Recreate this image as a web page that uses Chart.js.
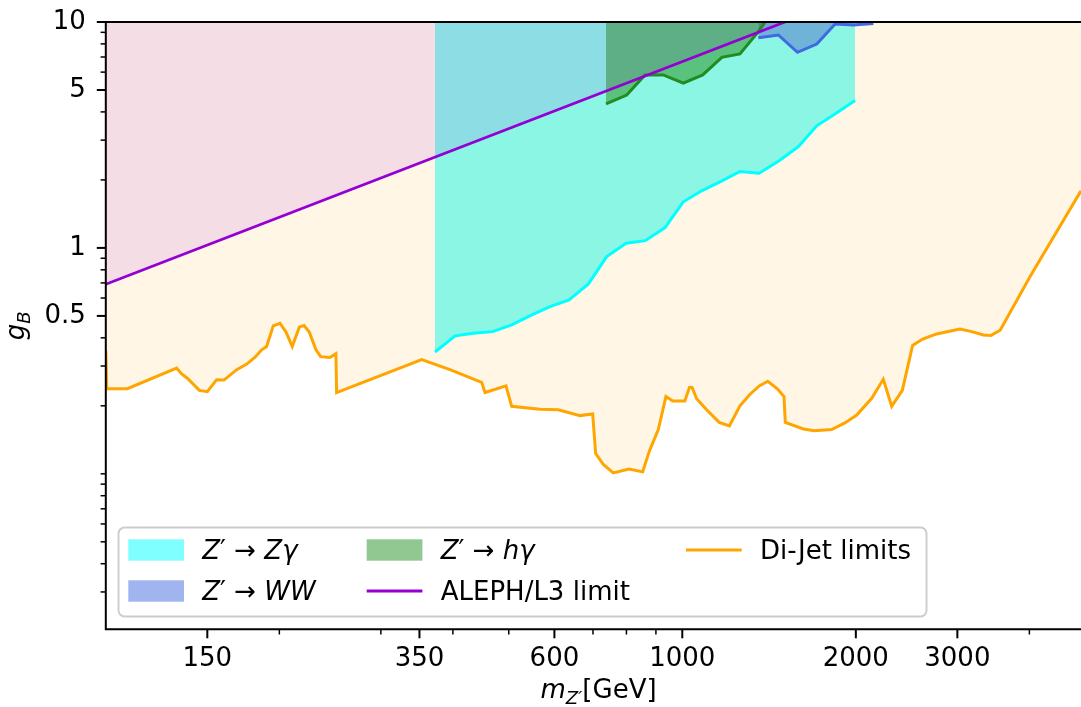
<!DOCTYPE html>
<html>
<head>
<meta charset="utf-8">
<script src="https://cdn.jsdelivr.net/npm/chart.js@4.4.1/dist/chart.umd.min.js"></script>
<style>
  html, body { margin: 0; padding: 0; background: #fff; overflow: hidden; }
  #wrap { width: 1081px; height: 707px; }
</style>
</head>
<body>
<div id="wrap"><canvas id="limitsChart" width="1081" height="707"></canvas></div>
<script>
// Z' -> Z gamma (lower edge of excluded band)
var massZg = [372.4, 403.5, 434.0, 469.0, 505.9, 548.1, 589.5, 636.0, 687.1, 739.5, 798.7, 862.6, 933.3, 1004, 1080, 1167, 1259, 1359, 1472, 1590, 1711, 1848, 1994];
var gZg    = [0.346, 0.408, 0.419, 0.426, 0.456, 0.505, 0.550, 0.589, 0.693, 0.915, 1.049, 1.077, 1.23, 1.60, 1.79, 1.97, 2.18, 2.14, 2.43, 2.81, 3.47, 3.95, 4.49];

// Z' -> WW
var massWW = [1355, 1468, 1584, 1711, 1841, 1980, 2145];
var gWW    = [8.52, 8.76, 7.34, 7.99, 9.8, 9.7, 9.85];

// Z' -> h gamma
var massHg = [737.4, 800.9, 861.6, 926.8, 1004, 1085, 1171, 1259, 1355, 1392];
var gHg    = [4.34, 4.75, 5.83, 5.83, 5.36, 5.83, 6.98, 7.22, 9.06, 10];

// ALEPH/L3
var massAleph = [100, 1507];
var gAleph    = [0.69, 10];

// di-jet
var massJet = [100, 100.4, 109.0, 132.7, 135.4, 138.5, 145.3, 150.0, 155.7, 160.3, 168.7, 175.6, 181.5, 186.4, 190.1, 195.2, 200.5, 205.4, 210.6, 216.6,
  220.7, 225.4, 231.5, 235.9, 244.8, 250.7, 251.4, 353.2, 395.4, 448.7, 454.8, 494.5, 505.9, 566.4, 609.5, 664.5, 699.1, 707.5, 729.4, 759.1,
  808.3, 853.7, 876.6, 908.6, 936.9, 962.3, 1010, 1029, 1040, 1059, 1102, 1159, 1207, 1259, 1311, 1360, 1407, 1462, 1501, 1509,
  1622, 1693, 1816, 1915, 2007, 2131, 2232, 2308, 2408, 2509, 2612, 2762, 3031, 3177, 3328, 3432, 3560, 4009, 4916];
var gJet = [0.35, 0.238, 0.238, 0.294, 0.277, 0.265, 0.234, 0.231, 0.261, 0.260, 0.289, 0.306, 0.328, 0.354, 0.366, 0.452, 0.464, 0.424, 0.366, 0.446,
  0.453, 0.424, 0.354, 0.330, 0.327, 0.340, 0.229, 0.320, 0.289, 0.254, 0.229, 0.245, 0.199, 0.193, 0.192, 0.181, 0.184, 0.123, 0.110, 0.101,
  0.105, 0.102, 0.126, 0.157, 0.220, 0.210, 0.210, 0.241, 0.241, 0.215, 0.192, 0.169, 0.163, 0.200, 0.225, 0.245, 0.257, 0.238, 0.220, 0.169,
  0.158, 0.155, 0.157, 0.168, 0.182, 0.216, 0.262, 0.199, 0.234, 0.370, 0.395, 0.416, 0.437, 0.426, 0.412, 0.410, 0.432, 0.746, 1.79];

// tick values
var xMajor = [150, 350, 600, 1000, 2000, 3000];
var xMinor = [200, 300, 400, 500, 700, 800, 900, 4000];
var yMajor = [0.5, 1, 5, 10];
var yMinor = [0.03, 0.04, 0.05, 0.06, 0.07, 0.08, 0.09, 0.1, 0.2, 0.3, 0.4, 0.6, 0.7, 0.8, 0.9, 2, 3, 4, 6, 7, 8, 9];

var FONT = '"DejaVu Sans", sans-serif';
var FS = 26;

function pts(xs, ys) {
  var out = [];
  for (var i = 0; i < xs.length; i++) out.push({x: xs[i], y: ys[i]});
  return out;
}
function sorted(a, b) {
  return a.concat(b).sort(function(p, q){ return p - q; });
}

// mathtext-ish pieces: t = text, i = italic, s = subscript
function fontFor(p) {
  return (p.i ? 'italic ' : '') + (p.s ? FS * 0.7 : FS) + 'px ' + FONT;
}
function drawRich(ctx, parts, x, y, center) {
  var w = 0;
  parts.forEach(function(p){ ctx.font = fontFor(p); w += ctx.measureText(p.t).width; });
  var cx = center ? x - w / 2 : x;
  parts.forEach(function(p){
    ctx.font = fontFor(p);
    ctx.fillText(p.t, cx, y + (p.s ? FS * 0.22 : 0));
    cx += ctx.measureText(p.t).width;
  });
}

var lblZg = [{t:'Z', i:1}, {t:'\u2032'}, {t:' \u2192 '}, {t:'Z\u03b3', i:1}];
var lblWW = [{t:'Z', i:1}, {t:'\u2032'}, {t:' \u2192 '}, {t:'WW', i:1}];
var lblHg = [{t:'Z', i:1}, {t:'\u2032'}, {t:' \u2192 '}, {t:'h\u03b3', i:1}];
var lblAleph = [{t:'ALEPH/L3 limit'}];
var lblJet = [{t:'Di-Jet limits'}];

var datasets = [
  { label: "Z' \u2192 Z\u03b3", data: pts(massZg, gZg), borderColor: '#00ffff', backgroundColor: 'rgba(0,255,255,0.5)',
    fill: 'end', borderWidth: 3, order: 5, legendPatch: 'rgba(0,255,255,0.5)', legendText: lblZg },
  { label: "Z' \u2192 WW", data: pts(massWW, gWW), borderColor: '#4169e1', backgroundColor: 'rgba(65,105,225,0.5)',
    fill: 'end', borderWidth: 3, order: 4, legendPatch: 'rgba(65,105,225,0.5)', legendText: lblWW },
  { label: "Z' \u2192 h\u03b3", data: pts(massHg, gHg), borderColor: '#228b22', backgroundColor: 'rgba(0,128,0,0.45)',
    fill: 'end', borderWidth: 3, order: 3, legendPatch: 'rgba(0,128,0,0.43)', legendText: lblHg },
  { label: 'ALEPH/L3 limit', data: pts(massAleph, gAleph), borderColor: '#9400d3', backgroundColor: 'rgba(148,0,211,0.1)',
    fill: 'end', borderWidth: 2.8, order: 1, legendLine: true, legendText: lblAleph },
  { label: 'Di-Jet limits', data: pts(massJet, gJet), borderColor: '#ffa500', backgroundColor: 'rgba(255,165,0,0.1)',
    fill: 'end', borderWidth: 3, order: 2, legendLine: true, legendText: lblJet }
];

// frame, matplotlib-like ticks, axis titles and legend
var decorPlugin = {
  id: 'decor',
  afterDraw: function(chart) {
    var ctx = chart.ctx, a = chart.chartArea;
    var xs = chart.scales.x, ys = chart.scales.y;
    ctx.save();
    ctx.strokeStyle = '#000';
    ctx.lineCap = 'butt';

    // spines
    ctx.lineWidth = 2;
    ctx.beginPath();
    ctx.moveTo(a.left, a.top); ctx.lineTo(a.right, a.top);
    ctx.moveTo(a.left, a.top - 1); ctx.lineTo(a.left, a.bottom + 1);
    ctx.moveTo(a.left, a.bottom); ctx.lineTo(a.right, a.bottom);
    ctx.stroke();

    // ticks
    function tick(isX, v, major) {
      ctx.lineWidth = major ? 2 : 1.5;
      var len = major ? 9 : 5.2;
      ctx.beginPath();
      if (isX) {
        var px = xs.getPixelForValue(v);
        ctx.moveTo(px, a.bottom); ctx.lineTo(px, a.bottom + len);
      } else {
        var py = ys.getPixelForValue(v);
        ctx.moveTo(a.left, py); ctx.lineTo(a.left - len, py);
      }
      ctx.stroke();
    }
    xMajor.forEach(function(v){ tick(true, v, true); });
    xMinor.forEach(function(v){ tick(true, v, false); });
    yMajor.forEach(function(v){ tick(false, v, true); });
    yMinor.forEach(function(v){ tick(false, v, false); });

    // axis titles
    ctx.fillStyle = '#000';
    ctx.textBaseline = 'alphabetic';
    var midX = (a.left + xs.getPixelForValue(5000)) / 2;
    drawRich(ctx, [{t:'m', i:1}, {t:'Z\u2032', i:1, s:1}, {t:'[GeV]'}], midX + 3, 698, true);
    ctx.save();
    ctx.translate(24, (a.top + a.bottom) / 2);
    ctx.rotate(-Math.PI / 2);
    drawRich(ctx, [{t:'g', i:1}, {t:'B', i:1, s:1}], 0, 0, true);
    ctx.restore();

    // legend box
    var lx = 118.5, ly = 527.5, lw = 808, lh = 89, r = 6;
    ctx.beginPath();
    ctx.moveTo(lx + r, ly);
    ctx.arcTo(lx + lw, ly, lx + lw, ly + lh, r);
    ctx.arcTo(lx + lw, ly + lh, lx, ly + lh, r);
    ctx.arcTo(lx, ly + lh, lx, ly, r);
    ctx.arcTo(lx, ly, lx + lw, ly, r);
    ctx.closePath();
    ctx.fillStyle = 'rgba(255,255,255,0.8)';
    ctx.fill();
    ctx.strokeStyle = '#cccccc';
    ctx.lineWidth = 1.9;
    ctx.stroke();

    // entries fill column by column, two rows
    var colX = [128.3, 366.7, 686];
    var rowY = [550, 591];
    chart.data.datasets.forEach(function(ds, k) {
      var cx = colX[Math.floor(k / 2)], cy = rowY[k % 2];
      if (ds.legendLine) {
        ctx.strokeStyle = ds.borderColor;
        ctx.lineWidth = ds.borderWidth;
        ctx.beginPath();
        ctx.moveTo(cx, cy); ctx.lineTo(cx + 55.7, cy);
        ctx.stroke();
      } else {
        ctx.fillStyle = ds.legendPatch;
        ctx.fillRect(cx, cy - 10.7, 55.7, 21.4);
      }
      ctx.fillStyle = '#000';
      drawRich(ctx, ds.legendText, cx + 74, cy + 9, false);
    });
    ctx.restore();
  }
};

var ctx = document.getElementById('limitsChart').getContext('2d');
var limitsChart = new Chart(ctx, {
  type: 'line',
  data: { datasets: datasets },
  options: {
    responsive: false,
    animation: false,
    layout: { padding: { top: 22, left: 0, right: 0, bottom: 0 } },
    elements: { point: { radius: 0 }, line: { tension: 0 } },
    plugins: {
      legend: { display: false },
      tooltip: { enabled: false },
      filler: { drawTime: 'beforeDatasetsDraw' }
    },
    scales: {
      x: {
        type: 'logarithmic',
        min: 100,
        max: 4916,
        // invisible tick marks only to push the labels away from the axis
        grid: { display: true, drawOnChartArea: false, drawTicks: true, tickLength: 14.5, color: 'rgba(0,0,0,0)' },
        border: { display: false },
        ticks: {
          autoSkip: false, maxRotation: 0, padding: 0, color: '#000',
          font: { family: FONT, size: FS },
          callback: function(v) { return xMajor.indexOf(v) >= 0 ? String(v) : ''; }
        },
        afterBuildTicks: function(scale) {
          scale.ticks = sorted(xMajor, xMinor).map(function(v){ return {value: v}; });
        },
        afterFit: function(scale) { scale.height = 77.7; }
      },
      y: {
        type: 'logarithmic',
        min: 0.0205,
        max: 10,
        grid: { display: true, drawOnChartArea: false, drawTicks: true, tickLength: 20, color: 'rgba(0,0,0,0)' },
        border: { display: false },
        ticks: {
          autoSkip: false, padding: 0, color: '#000',
          font: { family: FONT, size: FS },
          callback: function(v) { return yMajor.indexOf(v) >= 0 ? String(v) : ''; }
        },
        afterBuildTicks: function(scale) {
          scale.ticks = sorted(yMajor, yMinor).map(function(v){ return {value: v}; });
        },
        afterFit: function(scale) { scale.width = 105.8; }
      }
    }
  },
  plugins: [decorPlugin]
});
</script>
</body>
</html>
